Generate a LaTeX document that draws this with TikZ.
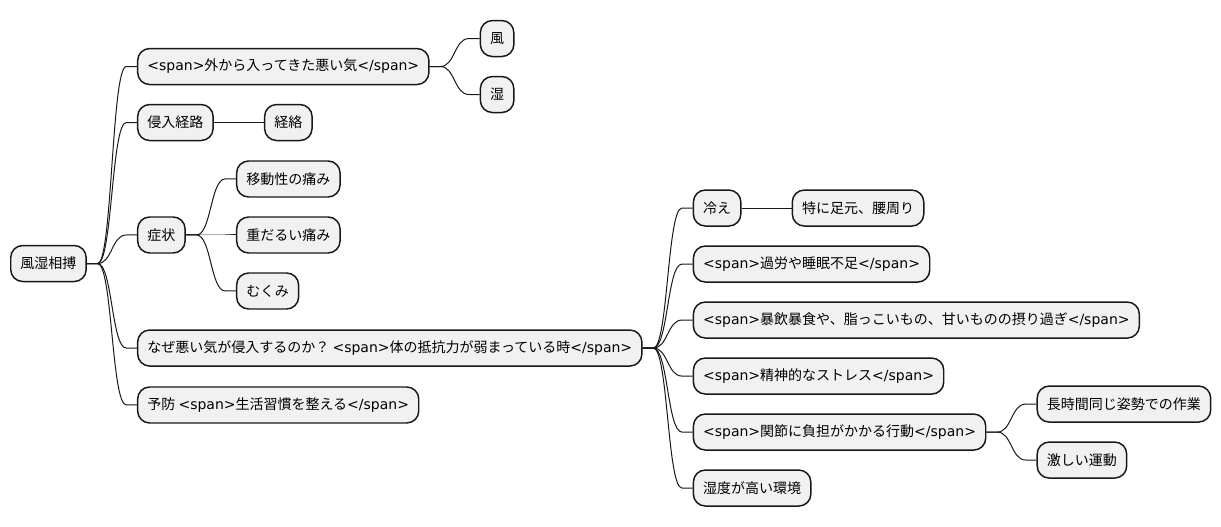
\documentclass[tikz,border=0pt]{standalone}
\usepackage{fontspec}
\setmainfont{Noto Sans CJK JP}
\newfontfamily\tagfont{DejaVu Sans}
\usetikzlibrary{positioning}
\definecolor{boxfill}{HTML}{F1F1F1}
\definecolor{boxline}{HTML}{181818}
\newcommand{\tg}[1]{{\tagfont #1}}
\newcommand{\branch}[2]{\draw[link] (#1.east) -- ++(8pt,0) .. controls ([xshift=19pt]#1.east) and ([xshift=-19pt]#2.west) .. ([xshift=-8pt]#2.west) -- (#2.west);}

\begin{document}
\begin{tikzpicture}[
		box/.style={draw=boxline, fill=boxfill, line width=1.1pt, rounded corners=9pt,
			inner xsep=7.3pt, minimum height=27pt, font=\fontsize{10.5pt}{12pt}\selectfont},
		link/.style={draw=boxline, line width=0.75pt}]
		\useasboundingbox (0,0) rectangle (915.75pt,395.25pt);
		\node[box, anchor=west] (root) at (7.5pt,197.6pt) {風湿相搏};
		\node[box, right=37.5pt of root, yshift=147.75pt] (gaija) {\tg{<span>}外から入ってきた悪い気\tg{</span>}};
		\node[box, right=37.5pt of gaija, yshift=21pt] (kaze) {風};
		\node[box, right=37.5pt of gaija, yshift=-21pt] (shitsu) {湿};
		\node[box, right=37.5pt of root, yshift=105.75pt] (shinnyu) {侵入経路};
		\node[box, right=37.5pt of shinnyu] (keiraku) {経絡};
		\node[box, right=37.5pt of root, yshift=21.4pt] (shojo) {症状};
		\node[box, right=37.5pt of shojo, yshift=42pt] (idou) {移動性の痛み};
		\node[box, right=37.5pt of shojo] (omodarui) {重だるい痛み};
		\node[box, right=37.5pt of shojo, yshift=-42pt] (mukumi) {むくみ};
		\node[box, right=37.5pt of root, yshift=-63.4pt] (naze) {なぜ悪い気が侵入するのか？ \tg{<span>}体の抵抗力が弱まっている時\tg{</span>}};
		\node[box, right=37.5pt of naze, yshift=105pt] (hie) {冷え};
		\node[box, right=37.5pt of hie] (ashimoto) {特に足元、腰周り};
		\node[box, right=37.5pt of naze, yshift=63pt] (karou) {\tg{<span>}過労や睡眠不足\tg{</span>}};
		\node[box, right=37.5pt of naze, yshift=21pt] (boin) {\tg{<span>}暴飲暴食や、脂っこいもの、甘いものの摂り過ぎ\tg{</span>}};
		\node[box, right=37.5pt of naze, yshift=-21pt] (seishin) {\tg{<span>}精神的なストレス\tg{</span>}};
		\node[box, right=37.5pt of naze, yshift=-63pt] (kansetsu) {\tg{<span>}関節に負担がかかる行動\tg{</span>}};
		\node[box, right=37.5pt of kansetsu, yshift=21pt] (chojikan) {長時間同じ姿勢での作業};
		\node[box, right=37.5pt of kansetsu, yshift=-21pt] (hageshii) {激しい運動};
		\node[box, right=37.5pt of naze, yshift=-105pt] (shitsudo) {湿度が高い環境};
		\node[box, right=37.5pt of root, yshift=-106.1pt] (yobou) {予防 \tg{<span>}生活習慣を整える\tg{</span>}};
		\branch{root}{gaija}
		\branch{root}{shinnyu}
		\branch{root}{shojo}
		\branch{root}{naze}
		\branch{root}{yobou}
		\branch{gaija}{kaze}
		\branch{gaija}{shitsu}
		\draw[link] (shinnyu) -- (keiraku);
		\branch{shojo}{idou}
		\branch{shojo}{omodarui}
		\branch{shojo}{mukumi}
		\branch{naze}{hie}
		\branch{naze}{karou}
		\branch{naze}{boin}
		\branch{naze}{seishin}
		\branch{naze}{kansetsu}
		\branch{naze}{shitsudo}
		\draw[link] (hie) -- (ashimoto);
		\branch{kansetsu}{chojikan}
		\branch{kansetsu}{hageshii}
	\end{tikzpicture}
\end{document}
